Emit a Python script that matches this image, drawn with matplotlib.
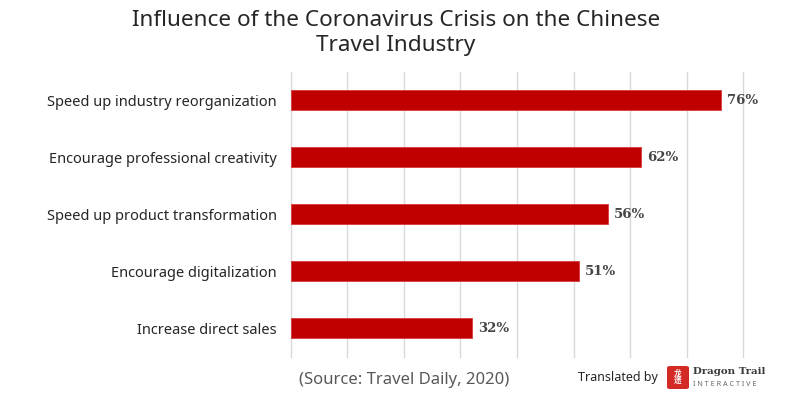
import matplotlib
matplotlib.use("Agg")
import matplotlib.pyplot as plt
from matplotlib.patches import FancyBboxPatch

categories = [
    "Speed up industry reorganization",
    "Encourage professional creativity",
    "Speed up product transformation",
    "Encourage digitalization",
    "Increase direct sales",
]
values = [76, 62, 56, 51, 32]
value_labels = ["76%", "62%", "56%", "51%", "32%"]
xticks = [0, 10, 20, 30, 40, 50, 60, 70, 80]

title = "Influence of the Coronavirus Crisis on the Chinese\nTravel Industry"
source = "(Source: Travel Daily, 2020)"

W, H = 800, 396
fig = plt.figure(figsize=(W / 100, H / 100), dpi=100)
fig.patch.set_facecolor("white")

ax = fig.add_axes([290.7 / W, 1 - 356.7 / H, (743.3 - 290.7) / W, (356.7 - 71.7) / H])
ypos = list(range(len(categories)))
ax.barh(ypos, values, height=0.355, color="#C00000", edgecolor="#D83A3A", linewidth=0.6, zorder=3)
ax.set_ylim(len(categories) - 0.5, -0.5)
ax.set_xlim(0, 80)
ax.set_xticks(xticks)
ax.set_xticklabels([])
ax.tick_params(axis="x", length=0)
ax.tick_params(axis="y", length=0, pad=10)
ax.set_yticks(ypos)
ax.set_yticklabels(categories, fontsize=10.5, color="#262626", family="Noto Sans")
ax.grid(axis="x", color="#D9D9D9", linewidth=1, zorder=0)
for gl in ax.get_xgridlines():
    gl.set_clip_on(False)
for s in ax.spines.values():
    s.set_visible(False)

for y, v, lab in zip(ypos, values, value_labels):
    ax.annotate(lab, (v, y), xytext=(6, 0), textcoords="offset pixels",
                va="center", ha="left", fontsize=9.5, color="#454545",
                family="DejaVu Serif", fontweight="bold")

fig.text(0.495, 1 - 33 / H, title, ha="center", va="center", fontsize=16.2,
         color="#262626", family="Noto Sans", linespacing=1.28)

fig.text(404 / W, 1 - 380 / H, source, ha="center", va="center", fontsize=12,
         color="#595959", family="Noto Sans")
fig.text(618 / W, 1 - 377 / H, "Translated by", ha="center", va="center", fontsize=9,
         color="#262626", family="Noto Sans")

# logo
logo = FancyBboxPatch((667 / W, 1 - 389 / H), 22 / W, 23 / H,
                      boxstyle="round,pad=0,rounding_size=0.004",
                      transform=fig.transFigure, facecolor="#D42A25", edgecolor="none")
fig.patches.append(logo)
fig.text(678 / W, 1 - 377.5 / H, "龙\n途", ha="center", va="center", fontsize=5.5,
         color="white", family=["Noto Sans CJK SC", "DejaVu Sans"], linespacing=0.95,
         fontweight="bold")
fig.text(693 / W, 1 - 372 / H, "Dragon Trail", ha="left", va="center", fontsize=7.4,
         color="#3a3a3a", family="DejaVu Serif", fontweight="bold")
fig.text(693 / W, 1 - 384 / H, "I N T E R A C T I V E", ha="left", va="center", fontsize=5.2,
         color="#666666", family="Noto Sans")

fig.savefig("out.png", dpi=100)
